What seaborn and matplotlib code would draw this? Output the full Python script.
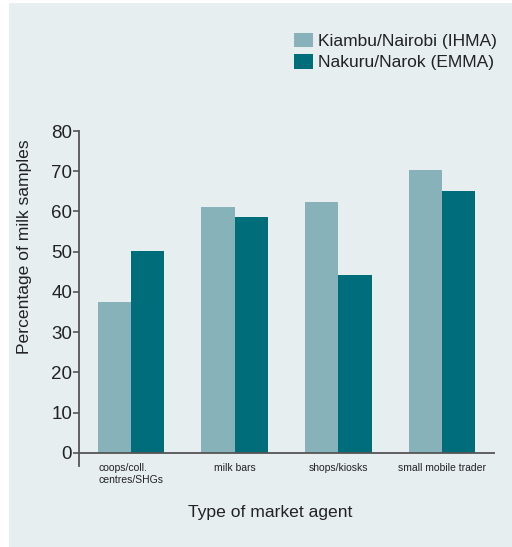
import numpy as np
import pandas as pd
import matplotlib
matplotlib.use('Agg')
import matplotlib.pyplot as plt
import seaborn as sns
from matplotlib.patches import Rectangle

# data
agents = ['coops/coll.\ncentres/SHGs', 'milk bars', 'shops/kiosks', 'small mobile trader']
kiambu = [37.6, 61.0, 62.4, 70.4]
nakuru = [50.2, 58.6, 44.2, 65.1]
series = ['Kiambu/Nairobi (IHMA)', 'Nakuru/Narok (EMMA)']
colors = ['#88B2B9', '#006D7A']
bg = '#E6EEF0'

df = pd.DataFrame({
    'agent': agents * 2,
    'pct': kiambu + nakuru,
    'region': [series[0]] * 4 + [series[1]] * 4,
})

sns.set_style('white')
plt.rcParams['font.family'] = ['Liberation Sans', 'DejaVu Sans']

fig = plt.figure(figsize=(5.12, 5.47), dpi=100)
fig.patch.set_facecolor('white')
fig.patches.append(Rectangle((9 / 512, 0), 1 - 9 / 512, 1 - 3 / 547,
                             transform=fig.transFigure, facecolor=bg,
                             edgecolor='none', zorder=-10))

ax = fig.add_axes([79 / 512, 1 - 466 / 547, (495 - 79) / 512, (466 - 131) / 547])
ax.patch.set_alpha(0)

sns.barplot(data=df, x='agent', y='pct', hue='region', palette=colors,
            width=0.64, saturation=1, linewidth=0, ax=ax, legend=False)

ax.set_ylim(-3.3, 80)
ax.set_xlim(-0.5, 3.51)
ax.set_yticks(range(0, 81, 10))
ax.tick_params(axis='y', labelsize=13.5, length=4, width=1.2, color='#555555',
               labelcolor='#222222', pad=1, left=True)
ax.tick_params(axis='x', labelsize=7.5, length=0, labelcolor='#222222', pad=-2)
for lbl in ax.get_xticklabels():
    lbl.set_multialignment('left')

for s in ['top', 'right', 'bottom']:
    ax.spines[s].set_visible(False)
ax.spines['left'].set_color('#555555')
ax.spines['left'].set_linewidth(1.3)
ax.axhline(0, color='#555555', lw=1.3, zorder=5)

ax.set_ylabel('Percentage of milk samples', fontsize=12.6, color='#222222')
ax.yaxis.set_label_coords(-0.113, 0.655)
ax.set_xlabel('Type of market agent', fontsize=12.6, color='#222222')
ax.xaxis.set_label_coords(0.459, -0.116)

# legend
handles = [Rectangle((0, 0), 1, 1, facecolor=c, edgecolor='none') for c in colors]
fig.legend(handles, series, loc='upper left', bbox_to_anchor=(278 / 512, 1 - 17 / 547),
           frameon=False, fontsize=12.5, handlelength=1.1, handleheight=0.92,
           handletextpad=0.3, labelspacing=0.3, labelcolor='#222222')

fig.savefig('out.png', dpi=100, facecolor='white')
